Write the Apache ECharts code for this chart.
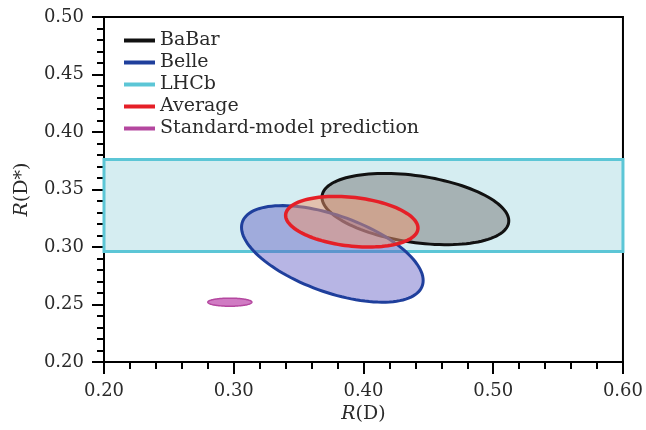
<!DOCTYPE html>
<html>
<head>
<meta charset="utf-8">
<script src="https://cdn.jsdelivr.net/npm/echarts@6/dist/echarts.min.js"></script>
<style>
html,body{margin:0;padding:0;background:#fff;}
#chart{width:646px;height:430px;}
</style>
</head>
<body>
<div id="chart"></div>
<script>
// ---- data ----
const legendNames = ['BaBar', 'Belle', 'LHCb', 'Average', 'Standard-model prediction'];
const ellipseNames = ['BaBar', 'Belle', 'Average', 'Standard-model prediction'];
const centerRD     = [0.440, 0.376, 0.391, 0.297];
const centerRDstar = [0.333, 0.294, 0.322, 0.252];
const sigmaRD      = [0.072, 0.070, 0.051, 0.017];
const sigmaRDstar  = [0.031, 0.042, 0.022, 0.0035];
const correlation  = [-0.33, -0.55, -0.25, 0.0];
const lhcbRD       = [0.20, 0.60];
const lhcbRDstar   = [0.296, 0.376];
const xTicks = [0.20, 0.30, 0.40, 0.50, 0.60];
const yTicks = [0.20, 0.25, 0.30, 0.35, 0.40, 0.45, 0.50];

// ---- styles ----
const strokeColors = {
  'BaBar': '#111111',
  'Belle': '#1f3f9c',
  'LHCb': '#5cc6d6',
  'Average': '#e51f27',
  'Standard-model prediction': '#b4479f'
};
const fillColors = {
  'BaBar': 'rgba(120,120,120,0.5)',
  'Belle': 'rgba(95,90,195,0.45)',
  'Average': 'rgba(240,150,110,0.5)',
  'Standard-model prediction': 'rgba(200,100,185,0.85)'
};
const lineWidths = {'BaBar': 3, 'Belle': 3, 'Average': 3.5, 'Standard-model prediction': 1.5};
const FONT = 'DejaVu Serif';

function ellipseRender(name) {
  return function (params, api) {
    const cx = api.value(0), cy = api.value(1), sx = api.value(2), sy = api.value(3), r = api.value(4);
    const s = Math.sqrt(1 - r * r);
    const pts = [];
    const N = 120;
    for (let i = 0; i < N; i++) {
      const t = 2 * Math.PI * i / N;
      const x = cx + sx * Math.cos(t);
      const y = cy + sy * (r * Math.cos(t) + s * Math.sin(t));
      pts.push(api.coord([x, y]));
    }
    return {
      type: 'polygon',
      shape: { points: pts },
      style: { fill: fillColors[name], stroke: strokeColors[name], lineWidth: lineWidths[name] }
    };
  };
}

const series = [];
series.push({
  name: 'LHCb',
  type: 'custom',
  itemStyle: { color: strokeColors['LHCb'] },
  data: [[lhcbRD[0], lhcbRD[1], lhcbRDstar[0], lhcbRDstar[1]]],
  encode: { x: [0, 1], y: [2, 3] },
  renderItem: function (params, api) {
    const p0 = api.coord([api.value(0), api.value(3)]);
    const p1 = api.coord([api.value(1), api.value(2)]);
    return {
      type: 'rect',
      shape: { x: p0[0], y: p0[1], width: p1[0] - p0[0], height: p1[1] - p0[1] },
      style: { fill: '#d5edf1', stroke: strokeColors['LHCb'], lineWidth: 3 }
    };
  }
});
ellipseNames.forEach(function (name, i) {
  series.push({
    name: name,
    type: 'custom',
    itemStyle: { color: strokeColors[name] },
    data: [[centerRD[i], centerRDstar[i], sigmaRD[i], sigmaRDstar[i], correlation[i]]],
    encode: { x: 0, y: 1 },
    renderItem: ellipseRender(name)
  });
});

const chart = echarts.init(document.getElementById('chart'), null, { renderer: 'canvas' });
chart.setOption({
  animation: false,
  backgroundColor: '#ffffff',
  grid: { left: 104, right: 23, top: 17, bottom: 68, show: true, borderColor: '#000', borderWidth: 2, backgroundColor: 'transparent' },
  legend: {
    orient: 'vertical',
    left: 124,
    top: 31,
    padding: 0,
    itemWidth: 31,
    itemHeight: 4,
    itemGap: 3,
    icon: 'rect',
    data: legendNames.map(function (n) { return { name: n, itemStyle: { color: strokeColors[n] } }; }),
    textStyle: { fontFamily: FONT, fontSize: 19, color: '#2a2a2a' }
  },
  xAxis: {
    type: 'value',
    min: xTicks[0],
    max: xTicks[xTicks.length - 1],
    interval: 0.1,
    name: '{i|R}(D)',
    nameLocation: 'middle',
    nameGap: 40,
    nameTextStyle: {
      fontFamily: FONT, fontSize: 19, color: '#2a2a2a',
      rich: { i: { fontFamily: FONT, fontSize: 19, fontStyle: 'italic', color: '#2a2a2a' } }
    },
    axisLine: { show: true, lineStyle: { color: '#000', width: 2 } },
    axisTick: { show: true, length: 12, lineStyle: { color: '#000', width: 2 } },
    minorTick: { show: true, splitNumber: 5, length: 7, lineStyle: { color: '#000', width: 2 } },
    splitLine: { show: false },
    axisLabel: {
      margin: 20, fontFamily: FONT, fontSize: 18, color: '#2a2a2a',
      formatter: function (v) { return v.toFixed(2); }
    }
  },
  yAxis: {
    type: 'value',
    min: yTicks[0],
    max: yTicks[yTicks.length - 1],
    interval: 0.05,
    name: '{i|R}(D*)',
    nameLocation: 'middle',
    nameGap: 72,
    nameRotate: 90,
    nameTextStyle: {
      fontFamily: FONT, fontSize: 19, color: '#2a2a2a',
      rich: { i: { fontFamily: FONT, fontSize: 19, fontStyle: 'italic', color: '#2a2a2a' } }
    },
    axisLine: { show: true, lineStyle: { color: '#000', width: 2 } },
    axisTick: { show: true, length: 12, lineStyle: { color: '#000', width: 2 } },
    minorTick: { show: true, splitNumber: 5, length: 7, lineStyle: { color: '#000', width: 2 } },
    splitLine: { show: false },
    axisLabel: {
      margin: 20, fontFamily: FONT, fontSize: 18, color: '#2a2a2a',
      formatter: function (v) { return v.toFixed(2); }
    }
  },
  series: series
});
</script>
</body>
</html>
